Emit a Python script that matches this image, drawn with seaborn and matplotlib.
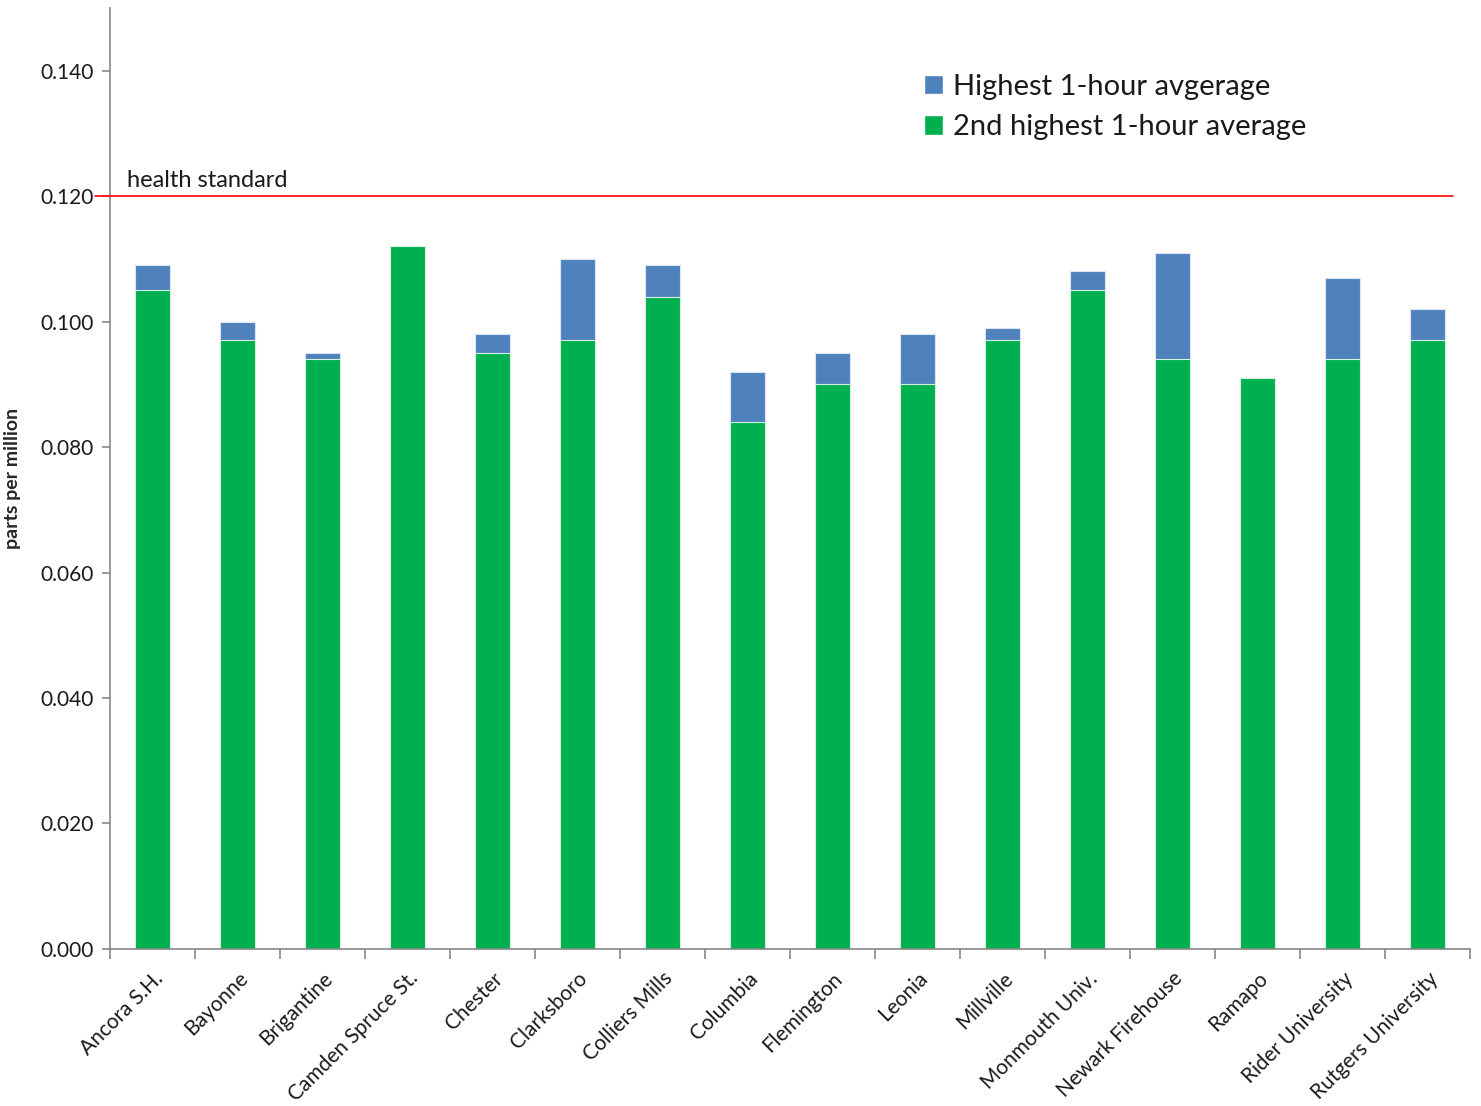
import numpy as np
import pandas as pd
import matplotlib
matplotlib.use("Agg")
import matplotlib.pyplot as plt
import seaborn as sns
from matplotlib.ticker import FixedLocator, FormatStrFormatter
from matplotlib.patches import Patch

sns.set_style("white")
plt.rcParams['font.family'] = ['Lato', 'DejaVu Sans']

# Monitoring stations and their 1-hour ozone values (ppm)
stations = ['Ancora S.H.', 'Bayonne', 'Brigantine', 'Camden Spruce St.', 'Chester',
            'Clarksboro', 'Colliers Mills', 'Columbia', 'Flemington', 'Leonia',
            'Millville', 'Monmouth Univ.', 'Newark Firehouse', 'Ramapo',
            'Rider University', 'Rutgers University']
highest = [0.109, 0.100, 0.095, 0.112, 0.098, 0.110, 0.109, 0.092, 0.095, 0.098,
           0.099, 0.108, 0.111, 0.091, 0.107, 0.102]
second_highest = [0.105, 0.097, 0.094, 0.112, 0.095, 0.097, 0.104, 0.084, 0.090, 0.090,
                  0.097, 0.105, 0.094, 0.091, 0.094, 0.097]
health_standard = 0.120

df = pd.DataFrame({'station': stations, 'highest': highest, 'second': second_highest})

blue = '#4F81BD'
green = '#00B050'
axis_grey = '#868686'

fig = plt.figure(figsize=(14.81, 11.06), dpi=100)
ax = fig.add_axes([0.0743, 0.142, 0.9183, 0.8508])

# Highest value drawn first, 2nd highest overlaid on top
sns.barplot(data=df, x='station', y='highest', color=blue, width=0.41, saturation=1,
            edgecolor='#dbe5f1', linewidth=0.8, ax=ax)
sns.barplot(data=df, x='station', y='second', color=green, width=0.41, saturation=1,
            edgecolor='#d8f0e0', linewidth=0.8, ax=ax)

ax.set_xlim(-0.5, len(stations) - 0.5)
ax.set_ylim(0, 0.150)
ax.yaxis.set_major_locator(FixedLocator(np.arange(0, 0.141, 0.02)))
ax.yaxis.set_major_formatter(FormatStrFormatter('%.3f'))

# health standard line
ax.plot([-0.68, 15.3], [health_standard, health_standard], color='#FF0000',
        linewidth=1.2, clip_on=False, zorder=5)
ax.text(-0.3, health_standard + 0.0009, 'health standard', fontsize=17,
        color='#1a1a1a', va='bottom', ha='left')

# spines and ticks
sns.despine(ax=ax, top=True, right=True)
for s in ['left', 'bottom']:
    ax.spines[s].set_color(axis_grey)
    ax.spines[s].set_linewidth(1.2)

ax.set_xticks(range(len(stations)))
ax.set_xticklabels(stations, rotation=45, ha='right', rotation_mode='anchor',
                   fontsize=15, color='#1a1a1a')
ax.set_xticks(np.arange(-0.5, len(stations), 1), minor=True)
ax.tick_params(axis='x', which='major', length=0, pad=14)
ax.tick_params(axis='x', which='minor', length=7, width=1.2, color=axis_grey,
               direction='out', bottom=True)
ax.tick_params(axis='y', which='major', length=6, width=1.2, color=axis_grey,
               direction='out', left=True, labelsize=15, labelcolor='#1a1a1a', pad=6)

ax.set_xlabel('')
ax.set_ylabel('parts per million', fontsize=14, fontweight='bold', labelpad=14)

handles = [Patch(facecolor=blue, label='Highest 1-hour avgerage'),
           Patch(facecolor=green, label='2nd highest 1-hour average')]
ax.legend(handles=handles, loc='upper left', bbox_to_anchor=(0.579, 0.958),
          frameon=False, fontsize=21, handlelength=0.65, handleheight=0.65,
          handletextpad=0.35, labelspacing=0.5, labelcolor='#1a1a1a')

fig.savefig('out.png', dpi=100)
